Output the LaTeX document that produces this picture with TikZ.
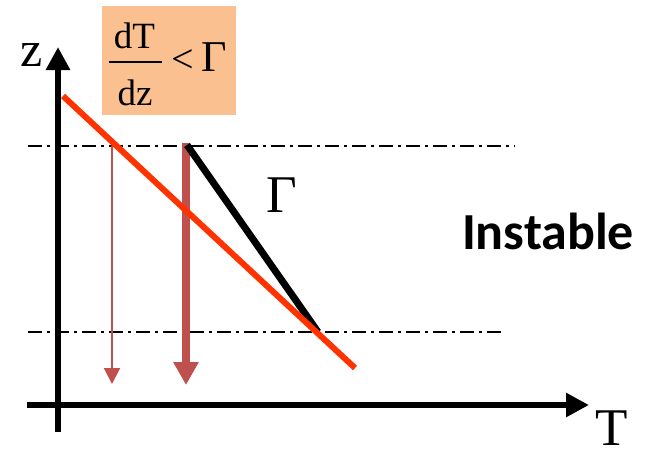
\documentclass[tikz,border=0pt]{standalone}
\usepackage{fontspec}
\setmainfont{Liberation Serif}
\newfontfamily\labelsans{Carlito}
\usetikzlibrary{arrows.meta}
\definecolor{boxorange}{HTML}{FAC090}
\definecolor{linered}{HTML}{FF3300}
\definecolor{arrowred}{HTML}{C0504D}
\tikzset{
  axis/.style={line width=6pt, -{Triangle[length=23pt,width=23pt]}},
  refline/.style={line width=1.5pt, dash pattern=on 14pt off 5pt on 3pt off 5pt},
  thinarrow/.style={arrowred, line width=2pt, -{Triangle[length=16pt,width=16pt]}},
  thickarrow/.style={arrowred, line width=8pt, -{Triangle[length=23pt,width=24pt]}},
  lbl/.style={inner sep=0pt, outer sep=0pt},
}
\begin{document}
\begin{tikzpicture}[x=1pt,y=-1pt]
\useasboundingbox (0,0) rectangle (650,448);
% coordinates
\coordinate (yaxB) at (58,432);
\coordinate (yaxT) at (58,47);
\coordinate (xaxL) at (27,405);
\coordinate (xaxR) at (589,405);
\coordinate (upL) at (28,146);
\coordinate (upR) at (515,146);
\coordinate (loL) at (28,332);
\coordinate (loR) at (502,332);
\coordinate (redA) at (63,96);
\coordinate (redB) at (355,368);
\coordinate (blkA) at (187,145);
\coordinate (blkB) at (318,332);
\coordinate (thinT) at (112,146);
\coordinate (thinB) at (112,384);
\coordinate (thickT) at (186,143);
\coordinate (thickB) at (186,385);
% reference levels
\draw[refline] (upL) -- (upR);
\draw[refline] (loL) -- (loR);
% arrows
\draw[thinarrow] (thinT) -- (thinB);
\draw[thickarrow] (thickT) -- (thickB);
% profiles
\draw[line width=7pt] (blkA) -- (blkB);
\draw[linered, line width=6pt] (redA) -- (redB);
% axes
\draw[axis] (yaxB) -- (yaxT);
\draw[axis] (xaxL) -- (xaxR);
% labels
\node[lbl] (zlab) at (32,55) {\fontsize{50}{50}\selectfont z};
\node[lbl] (tlab) at (612,428) {\fontsize{53}{53}\selectfont T};
\node[lbl] (glab) at (282,195) {\fontsize{53}{53}\selectfont Γ};
\node[lbl] (inst) at (548,231) {\labelsans\bfseries\fontsize{52}{52}\selectfont Instable};
% formula box
\node[fill=boxorange, minimum width=134pt, minimum height=109pt, inner sep=0pt] (box) at (169,60.5) {};
\node[lbl] (num) at (134.5,36) {\fontsize{37}{37}\selectfont dT};
\node[lbl] (den) at (135,92.5) {\fontsize{37}{37}\selectfont dz};
\coordinate (barL) at (109,62);
\coordinate (barR) at (162,62);
\draw[line width=1.3pt] (barL) -- (barR);
\node[lbl] (lt) at (183,61) {\fontsize{40}{40}\selectfont <};
\node[lbl] (gbox) at (214.5,57) {\fontsize{44}{44}\selectfont Γ};
\end{tikzpicture}
\end{document}
